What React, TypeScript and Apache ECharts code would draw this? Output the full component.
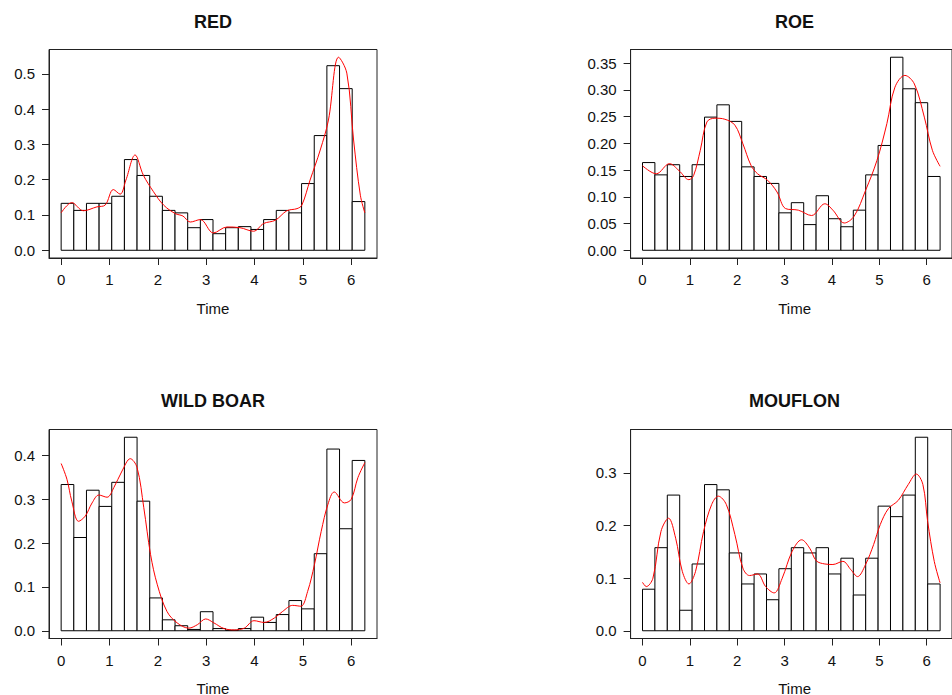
import React, { useEffect, useRef } from "react";
import * as echarts from "echarts";

// ---------- data ----------
const panelTitles = ["RED", "ROE", "WILD BOAR", "MOUFLON"];
const xTicks = [0, 1, 2, 3, 4, 5, 6];

const redBins = [0.133, 0.113, 0.133, 0.133, 0.153, 0.257, 0.212, 0.153, 0.113, 0.106, 0.064, 0.087,
  0.047, 0.064, 0.067, 0.059, 0.087, 0.113, 0.106, 0.189, 0.325, 0.523, 0.458, 0.138];
const redCurve = [[0, 0.106], [0.22, 0.135], [0.46, 0.112], [0.74, 0.123], [0.91, 0.128], [1.08, 0.172],
  [1.22, 0.159], [1.34, 0.199], [1.53, 0.27], [1.7, 0.213], [1.91, 0.166], [2.12, 0.128], [2.36, 0.104],
  [2.52, 0.097], [2.67, 0.08], [2.88, 0.087], [3.15, 0.049], [3.43, 0.066], [3.7, 0.064], [3.98, 0.054],
  [4.19, 0.076], [4.43, 0.085], [4.67, 0.112], [4.88, 0.118], [4.98, 0.128], [5.15, 0.199], [5.36, 0.284],
  [5.53, 0.369], [5.74, 0.547], [5.91, 0.502], [6.05, 0.3125], [6.19, 0.156], [6.283, 0.106]];
const redYTicks = [0, 0.1, 0.2, 0.3, 0.4, 0.5];

const roeBins = [0.164, 0.141, 0.16, 0.138, 0.16, 0.249, 0.272, 0.241, 0.156, 0.138, 0.125, 0.07,
  0.089, 0.048, 0.102, 0.059, 0.044, 0.075, 0.141, 0.196, 0.361, 0.302, 0.276, 0.138];
const roeCurve = [[0, 0.158], [0.29, 0.143], [0.57, 0.162], [0.77, 0.149], [0.98, 0.132], [1.08, 0.14],
  [1.22, 0.187], [1.36, 0.24], [1.53, 0.247], [1.74, 0.245], [1.95, 0.234], [2.12, 0.199], [2.29, 0.159],
  [2.43, 0.143], [2.64, 0.131], [2.84, 0.109], [3.02, 0.078], [3.29, 0.075], [3.57, 0.065], [3.85, 0.087],
  [4.02, 0.075], [4.26, 0.051], [4.47, 0.064], [4.71, 0.112], [4.95, 0.168], [5.16, 0.237], [5.33, 0.305],
  [5.54, 0.327], [5.74, 0.311], [5.95, 0.249], [6.12, 0.187], [6.283, 0.157]];
const roeYTicks = [0, 0.05, 0.1, 0.15, 0.2, 0.25, 0.3, 0.35];

const boarBins = [0.334, 0.213, 0.321, 0.284, 0.339, 0.442, 0.296, 0.075, 0.025, 0.0115, 0.003, 0.0435,
  0.005, 0.001, 0.005, 0.031, 0.019, 0.037, 0.069, 0.05, 0.176, 0.415, 0.233, 0.389];
const boarCurve = [[0, 0.382], [0.12, 0.346], [0.22, 0.296], [0.36, 0.25], [0.5, 0.262], [0.64, 0.292],
  [0.78, 0.31], [0.95, 0.305], [1.09, 0.327], [1.26, 0.365], [1.43, 0.393], [1.57, 0.373], [1.71, 0.281],
  [1.85, 0.174], [1.99, 0.105], [2.19, 0.044], [2.4, 0.018], [2.64, 0.006], [2.82, 0.014], [2.99, 0.027],
  [3.16, 0.018], [3.37, 0.005], [3.58, 0.002], [3.79, 0.006], [3.99, 0.023], [4.2, 0.019], [4.41, 0.029],
  [4.58, 0.044], [4.79, 0.058], [4.96, 0.056], [5.1, 0.09], [5.24, 0.151], [5.38, 0.227], [5.52, 0.289],
  [5.65, 0.317], [5.86, 0.292], [6.0, 0.3], [6.14, 0.35], [6.283, 0.384]];
const boarYTicks = [0, 0.1, 0.2, 0.3, 0.4];

const mouflonBins = [0.079, 0.158, 0.258, 0.039, 0.127, 0.278, 0.268, 0.148, 0.089, 0.108, 0.059, 0.118,
  0.158, 0.148, 0.158, 0.108, 0.138, 0.068, 0.138, 0.237, 0.217, 0.258, 0.368, 0.089];
const mouflonCurve = [[0, 0.092], [0.08, 0.084], [0.22, 0.1], [0.39, 0.189], [0.55, 0.214], [0.7, 0.176],
  [0.84, 0.113], [0.98, 0.089], [1.12, 0.113], [1.29, 0.189], [1.46, 0.24], [1.6, 0.256], [1.77, 0.24],
  [1.95, 0.183], [2.12, 0.119], [2.26, 0.105], [2.43, 0.108], [2.6, 0.084], [2.78, 0.072], [2.95, 0.1],
  [3.16, 0.151], [3.36, 0.173], [3.53, 0.157], [3.67, 0.133], [3.85, 0.127], [4.02, 0.126], [4.23, 0.132],
  [4.4, 0.116], [4.54, 0.103], [4.71, 0.126], [4.88, 0.164], [5.02, 0.202], [5.19, 0.232], [5.4, 0.248],
  [5.61, 0.278], [5.78, 0.298], [5.92, 0.278], [6.02, 0.208], [6.16, 0.132], [6.283, 0.091]];
const mouflonYTicks = [0, 0.1, 0.2, 0.3];

const allBins = [redBins, roeBins, boarBins, mouflonBins];
const allCurves = [redCurve, roeCurve, boarCurve, mouflonCurve];
const allYTicks = [redYTicks, roeYTicks, boarYTicks, mouflonYTicks];
const yDecimals = [1, 2, 1, 1];

// ---------- layout ----------
const FONT = "'Liberation Sans', Arial, Helvetica, sans-serif";
const gridRects = [
  { left: 49, top: 49.5, width: 328, height: 208.5 },
  { left: 630.6, top: 49.5, width: 328, height: 208.5 },
  { left: 49, top: 429.5, width: 328, height: 209 },
  { left: 630.6, top: 429.5, width: 328, height: 209 },
];

export default function App() {
  const ref = useRef<HTMLDivElement>(null);
  useEffect(() => {
    if (!ref.current) return;
    const chart = echarts.init(ref.current, null, { renderer: "svg" });
    const TWO_PI = Math.PI * 2;
    const xPad = TWO_PI * 0.04;
    const grids: any[] = [];
    const xAxes: any[] = [];
    const yAxes: any[] = [];
    const series: any[] = [];
    const graphics: any[] = [];

    for (let i = 0; i < 4; i++) {
      const g = gridRects[i];
      grids.push({
        left: g.left, top: g.top, width: g.width, height: g.height,
        show: true, borderColor: "#222", borderWidth: 1, backgroundColor: "transparent",
        containLabel: false,
      });
      const bins = allBins[i];
      const curve = allCurves[i];
      const ymax = Math.max(...bins, ...curve.map((p) => p[1]));
      const yPad = ymax * 0.04;
      const dec = yDecimals[i];
      xAxes.push({
        type: "value", gridIndex: i, min: -xPad, max: TWO_PI + xPad,
        axisLine: { show: true, onZero: false, lineStyle: { color: "#222", width: 1 } },
        axisTick: { show: true, length: 7, customValues: xTicks, lineStyle: { color: "#222" } },
        axisLabel: { show: true, customValues: xTicks, margin: 14, fontSize: 15, color: "#111", fontFamily: FONT,
          formatter: (v: number) => String(Math.round(v)) },
        splitLine: { show: false },
      });
      const yt = allYTicks[i];
      yAxes.push({
        type: "value", gridIndex: i, min: -yPad, max: ymax + yPad,
        axisLine: { show: true, onZero: false, lineStyle: { color: "#222", width: 1 } },
        axisTick: { show: true, length: 7, customValues: yt, lineStyle: { color: "#222" } },
        axisLabel: { show: true, customValues: yt, margin: 14, fontSize: 15, color: "#111", fontFamily: FONT,
          formatter: (v: number) => v.toFixed(dec) },
        splitLine: { show: false },
      });
      const w = TWO_PI / bins.length;
      series.push({
        type: "custom", xAxisIndex: i, yAxisIndex: i, z: 2, clip: false,
        data: bins.map((h, k) => [k * w, (k + 1) * w, h]),
        encode: { x: [0, 1], y: 2 },
        renderItem: (_p: any, api: any) => {
          const a = api.coord([api.value(0), api.value(2)]);
          const b = api.coord([api.value(1), 0]);
          return {
            type: "rect",
            shape: { x: a[0], y: a[1], width: b[0] - a[0], height: b[1] - a[1] },
            style: { fill: "#fff", stroke: "#000", lineWidth: 1 },
          };
        },
      });
      series.push({
        type: "line", xAxisIndex: i, yAxisIndex: i, z: 5,
        data: curve, smooth: 0.35, showSymbol: false, symbol: "none",
        lineStyle: { color: "#ff0000", width: 1 },
      });
      graphics.push({
        type: "text", x: g.left + g.width / 2, y: i < 2 ? 22 : 401,
        style: { text: panelTitles[i], fontSize: 18, fontWeight: "bold", fontFamily: FONT, fill: "#111",
          textAlign: "center", textVerticalAlign: "middle" },
      });
      graphics.push({
        type: "text", x: g.left + g.width / 2, y: i < 2 ? 308.5 : 688,
        style: { text: "Time", fontSize: 15, fontFamily: FONT, fill: "#111",
          textAlign: "center", textVerticalAlign: "middle" },
      });
    }

    chart.setOption({
      animation: false,
      backgroundColor: "#fff",
      grid: grids,
      xAxis: xAxes,
      yAxis: yAxes,
      series,
      graphic: graphics,
    });
    return () => chart.dispose();
  }, []);
  return <div ref={ref} style={{ position: "absolute", left: 0, top: 0, width: 952, height: 695 }} />;
}
